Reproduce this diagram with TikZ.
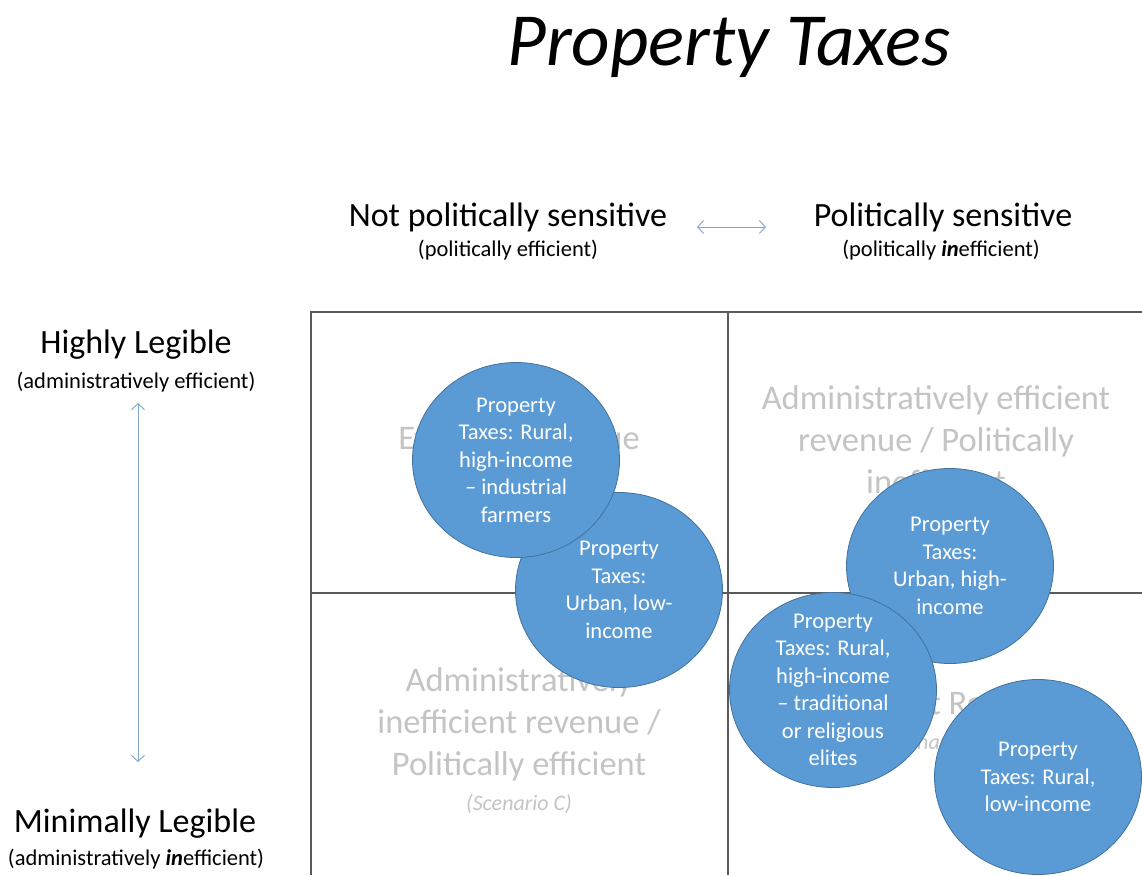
\documentclass[tikz,border=0pt]{standalone}
\usepackage{fontspec}
\setmainfont{Carlito}
\usetikzlibrary{shapes.geometric,arrows.meta}
\definecolor{bubblefill}{HTML}{5B9BD5}
\definecolor{bubbleedge}{HTML}{41719C}
\definecolor{quadgray}{HTML}{C4C4C4}
\definecolor{gridcol}{HTML}{5A5A5A}
\definecolor{arrowblue}{HTML}{7EA6CF}
\tikzset{
  titletext/.style={font=\fontsize{75}{80}\selectfont\itshape, inner sep=0pt},
  axishead/.style={font=\fontsize{34}{40}\selectfont, inner sep=0pt},
  axissub/.style={font=\fontsize{22.5}{27}\selectfont, inner sep=0pt},
  quadtext/.style={font=\fontsize{34.5}{42}\selectfont, text=quadgray, align=center, inner sep=0pt},
  bubble/.style={ellipse, draw=bubbleedge, line width=0.8pt, fill=bubblefill, minimum width=207pt, minimum height=195pt, inner sep=0pt},
  bubbletext/.style={font=\fontsize{22.5}{27.5}\selectfont, text=white, align=center, inner sep=0pt},
  outerline/.style={draw=gridcol, line width=1.6pt},
  innerline/.style={draw=gridcol, line width=1.2pt},
  axisarrow/.style={draw=arrowblue, line width=0.9pt, {Straight Barb[length=6pt,width=13pt]}-{Straight Barb[length=6pt,width=13pt]}}
}
\newcommand{\scen}{\fontsize{22}{26}\selectfont\itshape}
\begin{document}
\begin{tikzpicture}[x=1pt,y=-1pt]
\useasboundingbox (0,0) rectangle (1142,875);
\fill[white] (0,0) rectangle (1142,875);

% title
\node[titletext, anchor=base] (title) at (729,65) {Property Taxes};

% axis labels
\node[axishead, anchor=base] (notsens) at (508,226) {Not politically sensitive};
\node[axissub, anchor=base] (notsenssub) at (508,256) {(politically efficient)};
\node[axishead, anchor=base] (sens) at (943,226) {Politically sensitive};
\node[axissub, anchor=base] (senssub) at (941,256) {(politically \textbf{\textit{in}}efficient)};
\node[axishead, anchor=base] (high) at (136,353) {Highly Legible};
\node[axissub, anchor=base] (highsub) at (136,388) {(administratively efficient)};
\node[axishead, anchor=base] (low) at (135,832) {Minimally Legible};
\node[axissub, anchor=base] (lowsub) at (136,865) {(administratively \textbf{\textit{in}}efficient)};

% axis arrows
\coordinate (hleft) at (697,227);
\coordinate (hright) at (766,227);
\coordinate (vtop) at (138,403);
\coordinate (vbot) at (138,762);
\draw[axisarrow] (hleft) -- (hright);
\draw[axisarrow] (vtop) -- (vbot);

% quadrant texts
\node[quadtext] (qA) at (519,457) {Efficient Revenue\\[-7pt]{\scen (Scenario A)}};
\node[quadtext] (qB) at (936,459) {Administratively efficient\\revenue / Politically\\inefficient\\[-7pt]{\scen (Scenario B)}};
\node[quadtext] (qC) at (519,741) {Administratively\\inefficient revenue /\\Politically efficient\\[-7pt]{\scen (Scenario C)}};
\node[quadtext] (qD) at (935,722) {Inefficient Revenue\\[-7pt]{\scen (Scenario D)}};

% grid
\coordinate (gTL) at (311,312);
\coordinate (gTR) at (1142,312);
\coordinate (gBL) at (311,875);
\coordinate (gMT) at (728,312);
\coordinate (gMB) at (728,875);
\coordinate (gML) at (311,593);
\coordinate (gMR) at (1142,593);
\draw[outerline] (gTR) -- (gTL) -- (gBL);
\draw[innerline] (gMT) -- (gMB);
\draw[innerline] (gML) -- (gMR);

% bubbles
\node[bubble] (c2) at (619,590) {};
\node[bubbletext] (t2) at (c2.center) {Property\\Taxes:\\Urban, low-\\income};
\node[bubble] (c1) at (516,460) {};
\node[bubbletext] (t1) at (c1.center) {Property\\Taxes: Rural,\\high-income\\– industrial\\farmers};
\node[bubble] (c3) at (950,566) {};
\node[bubbletext] (t3) at (c3.center) {Property\\Taxes:\\Urban, high-\\income};
\node[bubble] (c4) at (833,690) {};
\node[bubbletext] (t4) at (c4.center) {Property\\Taxes: Rural,\\high-income\\– traditional\\or religious\\elites};
\node[bubble] (c5) at (1038,777) {};
\node[bubbletext] (t5) at (c5.center) {Property\\Taxes: Rural,\\low-income};
\end{tikzpicture}
\end{document}
